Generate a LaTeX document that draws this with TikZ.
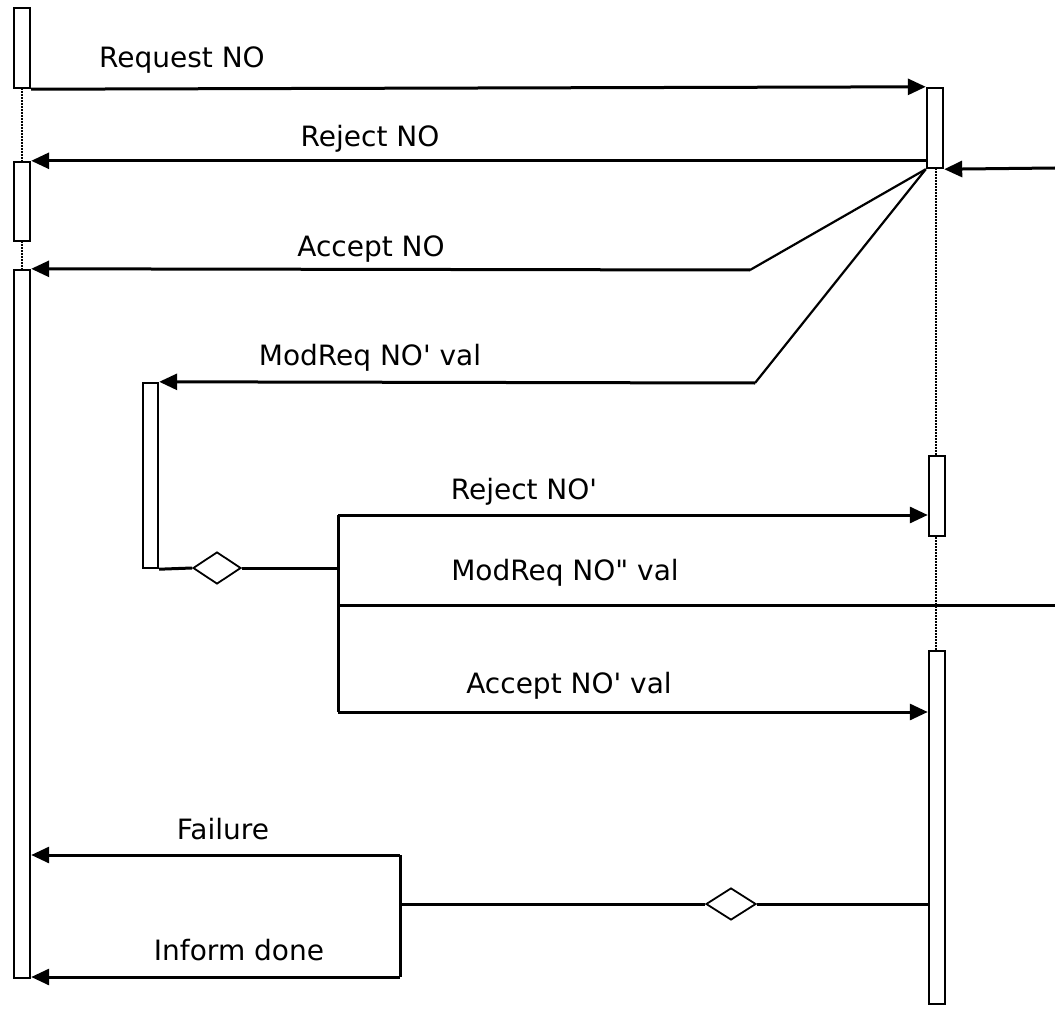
\documentclass[tikz,border=0pt]{standalone}
\usepackage{fontspec}
\setmainfont{DejaVu Sans}
\usetikzlibrary{arrows.meta,shapes.geometric}

\begin{document}
\begin{tikzpicture}[x=1pt,y=-1pt,
        actbar/.style={draw, fill=white, line width=2.4pt, inner sep=0pt, minimum width=16pt},
        msg/.style={line width=3pt, -{Triangle[length=18pt,width=16pt]}},
        wire/.style={line width=3pt},
        slant/.style={line width=2.2pt},
        life/.style={line width=1.5pt, dash pattern=on 2pt off 1pt},
        choice/.style={draw, diamond, fill=white, line width=1.8pt, inner sep=0pt, minimum width=48pt, minimum height=32pt},
        lbl/.style={anchor=base, font=\fontsize{28}{31}\selectfont}]
            \useasboundingbox (0,0) rectangle (1055,1019);

            % lifelines
            \coordinate (lt) at (22,88);
            \coordinate (lbot) at (22,270);
            \coordinate (rt) at (936,168);
            \coordinate (rbot) at (936,651);
            \draw[life] (lt) -- (lbot);
            \draw[life] (rt) -- (rbot);

            % activation bars
            \node[actbar, minimum height=80pt] (la) at (22,48) {};
            \node[actbar, minimum height=79pt] (lb) at (22,201.5) {};
            \node[actbar, minimum height=708pt] (lc) at (22,624) {};
            \node[actbar, minimum height=80pt] (ra) at (935,128) {};
            \node[actbar, minimum height=80pt] (rb) at (937,496) {};
            \node[actbar, minimum height=353pt] (rc) at (937,827.5) {};
            \node[actbar, minimum width=15pt, minimum height=185pt] (mb) at (150.5,475.5) {};

            % bend and branch points
            \coordinate (ext1) at (1055,168);
            \coordinate (ext2) at (1055,605);
            \coordinate (ac) at (750,270);
            \coordinate (mq) at (755,383);
            \coordinate (fk0) at (338,568);
            \coordinate (fk1) at (338,515);
            \coordinate (fk2) at (338,605);
            \coordinate (fk3) at (338,712);
            \coordinate (jn0) at (400,904);
            \coordinate (jn1) at (400,855);
            \coordinate (jn2) at (400,977);

            \node[choice] (d1) at (217,568) {};
            \node[choice, minimum width=50pt] (d2) at (731,904) {};

            % messages
            \draw[msg] (la.south east) -- (ra.north west);
            \draw[msg] (ra.west |- lb.north) -- (lb.north east);
            \draw[msg] (ext1) -- (ra.south east);

            \draw[slant] (ra.south west) -- (ac);
            \draw[msg] (ac) -- (lc.north east);
            \draw[slant] (ra.south west) -- (mq);
            \draw[msg] (mq) -- (mb.north east);

            \draw[wire] (mb.south east) -- (d1.west);
            \draw[wire] (d1.east) -- (fk0);
            \draw[wire] (fk1) -- (fk3);
            \draw[msg] (fk1) -- (fk1 -| rb.west);
            \draw[wire] (fk2) -- (ext2);
            \draw[msg] (fk3) -- (fk3 -| rc.west);

            \draw[wire] (jn1) -- (jn2);
            \draw[msg] (jn1) -- (jn1 -| lc.east);
            \draw[msg] (jn2) -- (jn2 -| lc.east);
            \draw[wire] (jn0) -- (d2.west);
            \draw[wire] (d2.east) -- (d2 -| rc.west);

            % labels
            \node[lbl] (t1) at (182,68) {Request NO};
            \node[lbl] (t2) at (370,147) {Reject NO};
            \node[lbl] (t3) at (371,256) {Accept NO};
            \node[lbl] (t4) at (370,365) {ModReq NO\textquotesingle{} val};
            \node[lbl] (t5) at (524,499) {Reject NO\textquotesingle};
            \node[lbl] (t6) at (565,580) {ModReq NO\textquotedbl{} val};
            \node[lbl] (t7) at (569,693) {Accept NO\textquotesingle{} val};
            \node[lbl] (t8) at (223,839) {Failure};
            \node[lbl] (t9) at (239,960) {Inform done};
        \end{tikzpicture}
\end{document}
